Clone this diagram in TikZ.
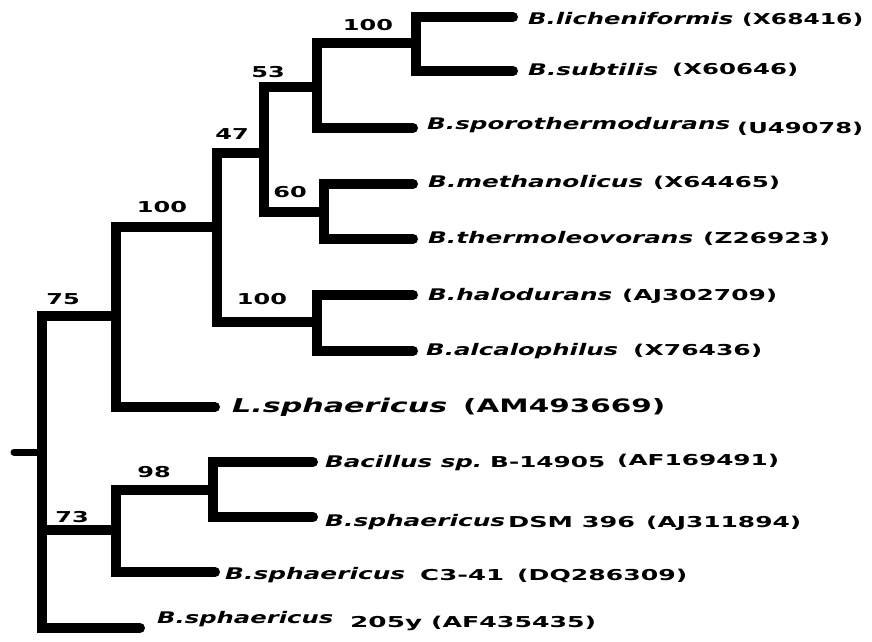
\documentclass[tikz,border=0pt]{standalone}
\usepackage{fontspec}
\usepackage{graphicx}
\newfontfamily\treefont[FakeStretch=1.6]{DejaVu Sans Bold}
\newfontfamily\spfontx[FakeStretch=1.6]{DejaVu Sans Bold Oblique}
\newcommand\tfn{\treefont\fontsize{15}{18}\selectfont}
\newcommand\tfbig{\treefont\fontsize{18.5}{22}\selectfont}
\newcommand\sfn{\spfontx\fontsize{16}{19}\selectfont}
\newcommand\sfbig{\spfontx\fontsize{19}{22}\selectfont}
\newcommand\fitw[2]{\resizebox{#1pt}{\height}{#2}}
\tikzset{
  br/.style={line width=10pt, line join=miter, line cap=round},
  stubline/.style={line width=7pt, line cap=round},
  spname/.style={anchor=base west, inner sep=0pt, font=\sfn},
  accnum/.style={anchor=base west, inner sep=0pt, font=\tfn},
  spbig/.style={anchor=base west, inner sep=0pt, font=\sfbig},
  accbig/.style={anchor=base west, inner sep=0pt, font=\tfbig},
  boot/.style={anchor=base, inner sep=0pt, font=\tfn},
}
\begin{document}
\begin{tikzpicture}[x=1pt,y=-1pt]
\useasboundingbox (0,0) rectangle (872,641);
% internal nodes
\coordinate (root) at (42,452);
\coordinate (stub) at (14,452);
\coordinate (n75) at (116,316);
\coordinate (n100a) at (217,227);
\coordinate (n47) at (264,153);
\coordinate (n53) at (317,87);
\coordinate (n100b) at (416,43);
\coordinate (n60) at (324,212);
\coordinate (n100c) at (317,322);
\coordinate (n73) at (116,530);
\coordinate (n98) at (213,490);
% leaf tips
\coordinate (lich) at (513,17);
\coordinate (subt) at (513,71);
\coordinate (sporo) at (413,128);
\coordinate (meth) at (413,184);
\coordinate (therm) at (413,239);
\coordinate (halo) at (413,295);
\coordinate (alca) at (413,351);
\coordinate (lsph) at (215,407);
\coordinate (bac) at (313,462);
\coordinate (dsm) at (313,517);
\coordinate (c341) at (215,572);
\coordinate (y205) at (140,628);
% branches
\draw[br] (lich) -| (n100b) |- (subt);
\draw[br] (n100b) -| (n53) |- (sporo);
\draw[br] (meth) -| (n60) |- (therm);
\draw[br] (n53) -| (n47) |- (n60);
\draw[br] (halo) -| (n100c) |- (alca);
\draw[br] (n47) -| (n100a) |- (n100c);
\draw[br] (n100a) -| (n75) |- (lsph);
\draw[br] (bac) -| (n98) |- (dsm);
\draw[br] (n98) -| (n73) |- (c341);
\draw[br] (n75) -| (root) |- (y205);
\draw[br] (root |- n73) -- (n73);
\draw[stubline] (stub) -- (root);
% bootstrap values
\node[boot] (b75) at (63,304.5) {75};
\node[boot] (b100a) at (162,212.5) {100};
\node[boot] (b47) at (232,139.5) {47};
\node[boot] (b53) at (268,77.5) {53};
\node[boot] (b100b) at (368,30.5) {100};
\node[boot] (b60) at (290,197.5) {60};
\node[boot] (b100c) at (262,304.5) {100};
\node[boot] (b73) at (72,522.5) {73};
\node[boot] (b98) at (154,477.5) {98};
% leaf labels
\node[spname] (tlich) at (528,24) {\fitw{205}{B.licheniformis}};
\node[accnum] (alich) at (742,24) {\fitw{121}{(X68416)}};
\node[spname] (tsubt) at (528,75) {\fitw{130}{B.subtilis}};
\node[accnum] (asubt) at (672,74) {\fitw{126}{(X60646)}};
\node[spname] (tsporo) at (427,129) {\fitw{303}{B.sporothermodurans}};
\node[accnum] (asporo) at (737,133) {\fitw{126}{(U49078)}};
\node[spname] (tmeth) at (428,187) {\fitw{215}{B.methanolicus}};
\node[accnum] (ameth) at (653,187) {\fitw{127}{(X64465)}};
\node[spname] (ttherm) at (428,243) {\fitw{265}{B.thermoleovorans}};
\node[accnum] (atherm) at (703,243) {\fitw{127}{(Z26923)}};
\node[spname] (thalo) at (428,300) {\fitw{184}{B.halodurans}};
\node[accnum] (ahalo) at (622,300) {\fitw{155}{(AJ302709)}};
\node[spname] (talca) at (426,355) {\fitw{192}{B.alcalophilus}};
\node[accnum] (aalca) at (633,355) {\fitw{129}{(X76436)}};
\node[spbig] (tlsph) at (232,412) {\fitw{215}{L.sphaericus}};
\node[accbig] (alsph) at (463,412) {\fitw{202}{(AM493669)}};
\node[spname] (tbac) at (325,467) {\fitw{157}{Bacillus sp.}};
\node[accnum] (sbac) at (490,467) {\fitw{115}{B-14905}};
\node[accnum] (abac) at (617,465) {\fitw{162}{(AF169491)}};
\node[spname] (tdsm) at (325,526) {\fitw{180}{B.sphaericus}};
\node[accnum] (sdsm) at (508,527) {\fitw{127}{DSM 396}};
\node[accnum] (adsm) at (646,527) {\fitw{155}{(AJ311894)}};
\node[spname] (tc341) at (225,579) {\fitw{180}{B.sphaericus}};
\node[accnum] (sc341) at (420,580) {\fitw{84}{C3-41}};
\node[accnum] (ac341) at (517,580) {\fitw{170}{(DQ286309)}};
\node[spname] (ty205) at (157,623) {\fitw{176}{B.sphaericus}};
\node[accnum] (sy205) at (350,627) {\fitw{72}{205y}};
\node[accnum] (ay205) at (431,627) {\fitw{165}{(AF435435)}};
\end{tikzpicture}
\end{document}
